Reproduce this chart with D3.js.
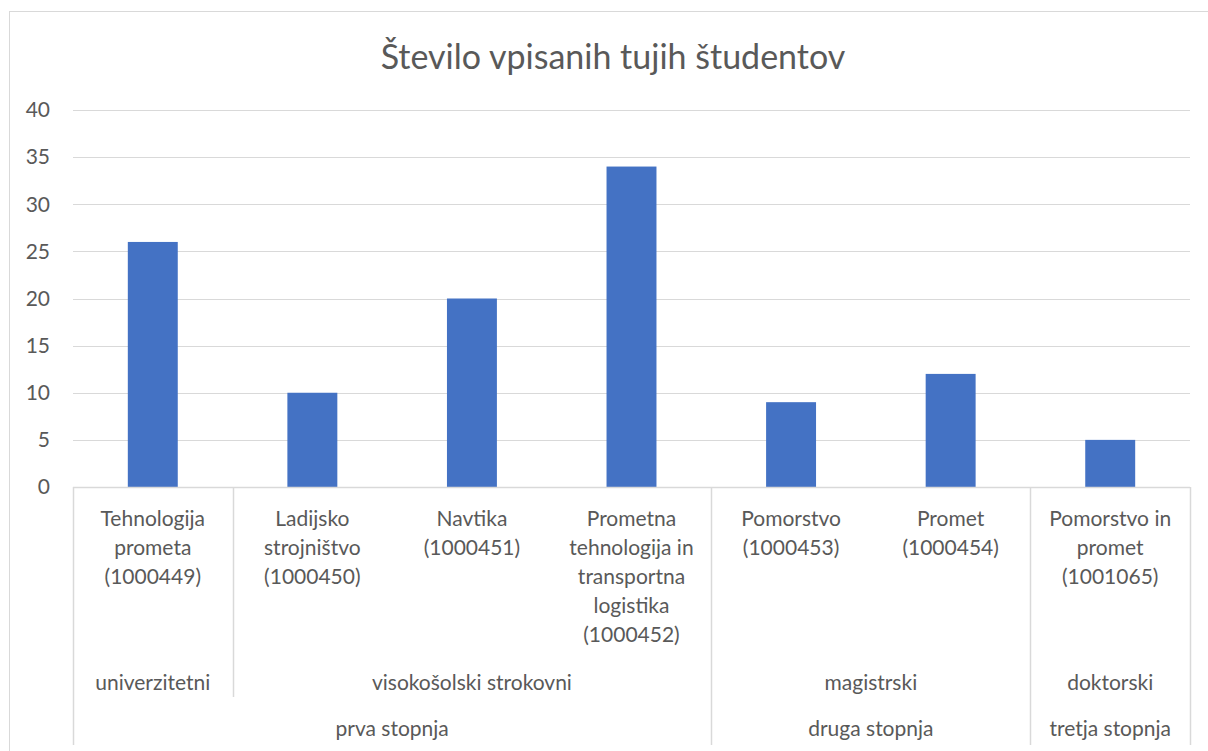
<!DOCTYPE html>
<html>
<head>
<meta charset="utf-8">
<script src="https://cdn.jsdelivr.net/npm/d3@7"></script>
<style>
  html, body { margin: 0; padding: 0; background: #fff; }
  svg { display: block; }
  text { font-family: Lato, "Noto Sans", sans-serif; fill: #595959; }
</style>
</head>
<body>
<svg id="chart" width="1208" height="751"></svg>
<script>
// ---- data ----
const categories = [
  "Tehnologija|prometa|(1000449)",
  "Ladijsko|strojništvo|(1000450)",
  "Navtika|(1000451)",
  "Prometna|tehnologija in|transportna|logistika|(1000452)",
  "Pomorstvo|(1000453)",
  "Promet|(1000454)",
  "Pomorstvo in|promet|(1001065)"
];
const values = [26, 10, 20, 34, 9, 12, 5];
const programTypes = ["univerzitetni", "visokošolski strokovni", "magistrski", "doktorski"];
const programTypeSpans = [1, 3, 2, 1];
const levels = ["prva stopnja", "druga stopnja", "tretja stopnja"];
const levelSpans = [4, 2, 1];
const yTicks = [0, 5, 10, 15, 20, 25, 30, 35, 40];
const title = "Število vpisanih tujih študentov";

(function () {
// ---- layout ----
const svg = d3.select("#chart");
const pLeft = 73, pRight = 1190, pTop = 110, pBottom = 487;
const lvl2Bottom = 697, lvl3Bottom = 745;
const gridColor = "#d9d9d9", barColor = "#4472c4";
const fs = "21px";

// chart border
svg.append("rect").attr("x", 9.5).attr("y", 11.5).attr("width", 1300).attr("height", 800)
  .attr("fill", "none").attr("stroke", gridColor).attr("stroke-width", 1);

// title
svg.append("text").attr("x", 613).attr("y", 69).attr("text-anchor", "middle")
  .style("font-size", "34px").text(title);

const idx = categories.map((d, i) => i);
const x = d3.scaleBand().domain(idx).range([pLeft, pRight]).paddingInner(0.687).paddingOuter(0.3435);
const xOuter = d3.scaleBand().domain(idx).range([pLeft, pRight]);
const y = d3.scaleLinear().domain([0, 40]).range([pBottom, pTop]);

// gridlines
svg.append("g").selectAll("line").data(yTicks.filter(t => t > 0)).join("line")
  .attr("x1", pLeft).attr("x2", pRight)
  .attr("y1", d => Math.round(y(d)) + 0.5).attr("y2", d => Math.round(y(d)) + 0.5)
  .attr("stroke", gridColor).attr("stroke-width", 1);

// y tick labels
svg.append("g").selectAll("text").data(yTicks).join("text")
  .attr("x", 50).attr("y", d => y(d)).attr("dy", "0.35em").attr("text-anchor", "end")
  .style("font-size", fs).text(d => d);

// bars
svg.append("g").selectAll("rect").data(values).join("rect")
  .attr("x", (d, i) => x(i)).attr("width", x.bandwidth())
  .attr("y", d => y(d)).attr("height", d => y(0) - y(d))
  .attr("fill", barColor);

// x axis baseline
svg.append("line").attr("x1", pLeft).attr("x2", pRight)
  .attr("y1", pBottom + 0.5).attr("y2", pBottom + 0.5)
  .attr("stroke", gridColor).attr("stroke-width", 1.5);

// category labels
const catG = svg.append("g");
categories.forEach((c, i) => {
  const cx = xOuter(i) + xOuter.bandwidth() / 2;
  const t = catG.append("text").attr("text-anchor", "middle").style("font-size", fs);
  c.split("|").forEach((line, j) => {
    t.append("tspan").attr("x", cx).attr("y", 526 + j * 29).text(line);
  });
});

// program type labels
let acc = 0;
const typeBounds = programTypeSpans.map(s => { const b = [acc, acc + s]; acc += s; return b; });
const boundX = k => k >= categories.length ? pRight : xOuter(k);
typeBounds.forEach((b, i) => {
  const x0 = boundX(b[0]), x1 = boundX(b[1]);
  svg.append("text").attr("x", (x0 + x1) / 2).attr("y", 690).attr("text-anchor", "middle")
    .style("font-size", fs).text(programTypes[i]);
});
// level labels
acc = 0;
const levelBounds = levelSpans.map(s => { const b = [acc, acc + s]; acc += s; return b; });
levelBounds.forEach((b, i) => {
  const x0 = boundX(b[0]), x1 = boundX(b[1]);
  svg.append("text").attr("x", (x0 + x1) / 2).attr("y", 736).attr("text-anchor", "middle")
    .style("font-size", fs).text(levels[i]);
});

// separators
const levelEdges = new Set([0].concat(levelBounds.map(b => b[1])));
const typeEdges = new Set([0].concat(typeBounds.map(b => b[1])));
const sepG = svg.append("g");
[...typeEdges].forEach(k => {
  const xx = Math.round(boundX(k)) + 0.5;
  sepG.append("line").attr("x1", xx).attr("x2", xx).attr("y1", pBottom)
    .attr("y2", levelEdges.has(k) ? lvl3Bottom : lvl2Bottom)
    .attr("stroke", gridColor).attr("stroke-width", 1.5);
});
})();
</script>
</body>
</html>
